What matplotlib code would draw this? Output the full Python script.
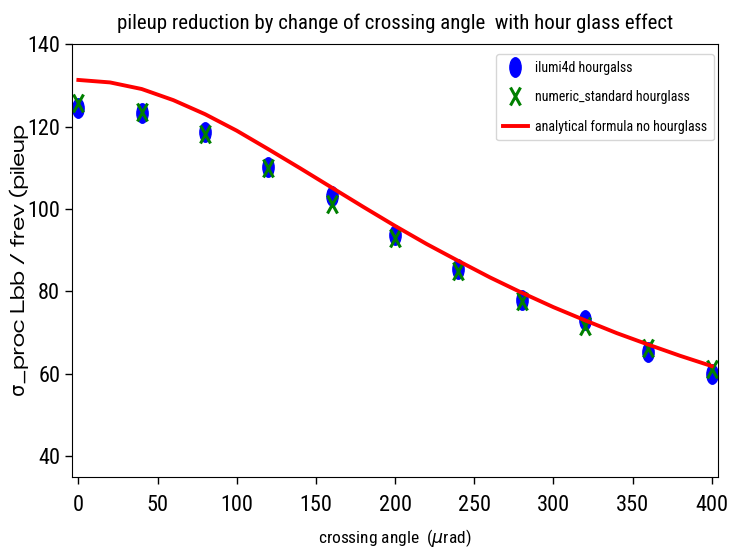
import numpy as np
import matplotlib.pyplot as plt
from matplotlib.markers import MarkerStyle
from matplotlib.transforms import Affine2D

# crossing angle scan (urad)
angle = [0, 40, 80, 120, 160, 200, 240, 280, 320, 360, 400]
lumi_ilumi4d = [124.5, 123.3, 118.7, 110.2, 103.2, 93.8, 85.5, 78.0, 73.2, 65.4, 60.0]
lumi_numeric = [125.7, 123.6, 118.2, 110.0, 101.3, 93.0, 85.0, 77.8, 71.7, 66.4, 61.3]

# analytical curve, no hourglass
angle_fine = [0, 20, 40, 60, 80, 100, 120, 140, 160, 180, 200,
              220, 240, 260, 280, 300, 320, 340, 360, 380, 400]
lumi_analytic = [131.3, 130.7, 129.1, 126.4, 123.0, 119.0, 114.5, 109.9, 105.2, 100.5, 95.9,
                 91.5, 87.4, 83.4, 79.7, 76.2, 73.0, 69.9, 67.1, 64.4, 61.9]

narrow = 'Roboto Condensed'
wide = ['Zalando Sans Expanded', 'DejaVu Sans']

fig = plt.figure(figsize=(7.29, 5.51), dpi=100)
ax = fig.add_axes([0.0988, 0.1343, 0.8862, 0.7857])

squash = Affine2D().scale(0.58, 1.0)
ax.plot(angle, lumi_ilumi4d, linestyle='none', color='blue',
        marker=MarkerStyle('o', transform=squash), markersize=14,
        label='ilumi4d hourgalss')
ax.plot(angle, lumi_numeric, linestyle='none', color='green',
        marker=MarkerStyle('x', transform=squash), markersize=13, markeredgewidth=2.2,
        label='numeric_standard hourglass')
ax.plot(angle_fine, lumi_analytic, color='red', linewidth=2.8,
        label='analytical formula no hourglass')

ax.set_xlim(-4, 404)
ax.set_ylim(35, 140)
ax.set_xticks(np.arange(0, 401, 50))
ax.set_yticks(np.arange(40, 141, 20))
for lab in ax.get_xticklabels() + ax.get_yticklabels():
    lab.set_fontfamily(narrow)
    lab.set_fontsize(16)
ax.tick_params(length=5, width=1)
ax.tick_params(axis='x', pad=8)

ax.set_title('pileup reduction by change of crossing angle  with hour glass effect',
             fontfamily=narrow, fontsize=15, pad=11)
ax.set_xlabel(r'crossing angle  ($\mu$rad)', fontfamily=narrow, fontsize=12.5, labelpad=8)
ax.set_ylabel('σ_proc Lbb / frev (pileup', fontfamily=wide, fontsize=14)
ax.yaxis.set_label_coords(-0.066, 0.5)

ax.legend(loc='upper right', bbox_to_anchor=(714 / 729, 497 / 551),
          bbox_transform=fig.transFigure, borderaxespad=0,
          prop={'family': narrow, 'size': 10},
          handlelength=1.8, handletextpad=0.5, borderpad=0.5, labelspacing=1.1)

fig.savefig('out.png', dpi=100)
